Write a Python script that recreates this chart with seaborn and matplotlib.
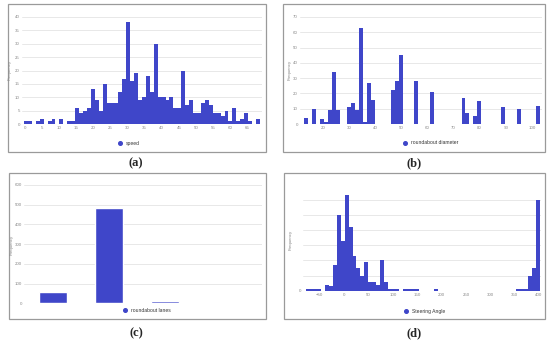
import numpy as np
import pandas as pd
import matplotlib.pyplot as plt
import seaborn as sns
from matplotlib.lines import Line2D
from matplotlib.patches import Rectangle

# (a) speed histogram, 60 bins
speed_counts = [1, 1, 0, 1, 2, 0, 1, 2, 0, 2, 0, 1, 1,
                6, 4, 5, 6, 13, 9, 5, 15, 8, 8, 8, 12, 17, 38, 16, 19, 9,
                10, 18, 12, 30, 10, 10, 9, 10, 6, 6, 20, 7, 9, 4, 4, 8, 9,
                7, 4, 4, 3, 5, 1, 6, 1, 2, 4, 1, 0, 2]
speed_range = (-0.3, 68.7)

# (b) roundabout diameter histogram, 60 bins
diam_counts = [4, 0, 10, 0, 3, 1, 9, 34, 9, 0,
               0, 11, 14, 9, 63, 1, 27, 16, 0, 0,
               0, 0, 22, 28, 45, 0, 0, 0, 28, 0,
               0, 0, 21, 0, 0, 0, 0, 0, 0, 0,
               17, 7, 0, 5, 15, 0, 0, 0, 0, 0,
               11, 0, 0, 0, 10, 0, 0, 0, 0, 12]
diam_range = (12.8, 103.2)

# (c) roundabout lanes
lanes = ["1", "2", "3"]
lane_counts = [56, 483, 14]

# (d) steering angle histogram, 60 bins
angle_counts = [1, 1, 1, 1, 0, 4, 3, 17, 50, 33,
                63, 42, 23, 15, 10, 19, 6, 6, 4, 20,
                6, 1, 1, 1, 0, 1, 1, 1, 1, 0,
                0, 0, 0, 1, 0, 0, 0, 0, 0, 0,
                0, 0, 0, 0, 0, 0, 0, 0, 0, 0,
                0, 0, 0, 0, 1, 1, 1, 10, 15, 60]
angle_range = (-78.7, 401.3)

BLUE = "#3f46c9"
W, H = 550, 342

sns.set_style("white")
plt.rcParams["font.family"] = ["Liberation Sans", "DejaVu Sans"]

fig = plt.figure(figsize=(5.5, 3.42), dpi=100)


def axes_px(x0, y0, x1, y1):
    return fig.add_axes([x0 / W, 1 - y1 / H, (x1 - x0) / W, (y1 - y0) / H])


def style(ax, yticks, xticks=None):
    ax.set_yticks(yticks)
    if xticks is None:
        ax.set_xticks([])
    else:
        ax.set_xticks(xticks)
    ax.grid(axis="y", color="#e4e4e4", linewidth=0.6)
    ax.grid(axis="x", visible=False)
    ax.set_axisbelow(True)
    for s in ax.spines.values():
        s.set_visible(False)
    ax.tick_params(length=0, labelsize=3.2, labelcolor="#8a8a8a", pad=1.5)
    ax.set_xlabel("")
    ax.set_ylabel("")


def hist(ax, counts, rng):
    edges = np.linspace(rng[0], rng[1], len(counts) + 1)
    df = pd.DataFrame({"x": (edges[:-1] + edges[1:]) / 2, "n": counts})
    sns.histplot(data=df, x="x", weights="n", bins=edges.tolist(), color=BLUE,
                 alpha=1, linewidth=0, edgecolor="none", ax=ax)


def legend(ax, text, xc, yc):
    h = Line2D([], [], marker="o", linestyle="", color=BLUE, markersize=2.6)
    ax.legend(handles=[h], labels=[text], loc="center",
              bbox_to_anchor=(xc / W, 1 - yc / H), bbox_transform=fig.transFigure,
              frameon=False, fontsize=3.6, handletextpad=0.9, handlelength=0.6,
              labelcolor="#333333")


def frame(x0, y0, x1, y1, label, lx, ly):
    fig.patches.append(Rectangle((x0 / W, 1 - y1 / H), (x1 - x0) / W, (y1 - y0) / H,
                                 transform=fig.transFigure, fill=False,
                                 edgecolor="#9a9a9a", linewidth=0.9))
    fig.text(lx / W, 1 - ly / H, label, ha="center", va="center", fontsize=9,
             fontweight="bold", family=["Liberation Serif", "DejaVu Serif"])


def ylabel(x, y):
    fig.text(x / W, 1 - y / H, "Frequency", rotation=90, ha="center", va="center",
             fontsize=3.2, color="#8a8a8a")


# panel (a)
frame(8, 4, 266, 152, "(a)", 136, 163)
ax = axes_px(22, 17, 262, 124)
hist(ax, speed_counts, speed_range)
ax.set_xlim(-0.88, 69.3)
ax.set_ylim(0, 40)
style(ax, np.arange(0, 41, 5), np.arange(0, 66, 5))
legend(ax, "speed", 129, 143)
ylabel(10, 70)

# panel (b)
frame(283, 4, 545, 152, "(b)", 414, 163)
ax = axes_px(300, 17, 542, 124)
hist(ax, diam_counts, diam_range)
ax.set_xlim(11.2, 103.9)
ax.set_ylim(0, 70)
style(ax, np.arange(0, 71, 10), np.arange(20, 101, 10))
legend(ax, "roundabout diameter", 431, 143)
ylabel(290, 70)

# panel (c)
frame(9, 173, 266, 319, "(c)", 136, 333)
ax = axes_px(24, 185, 262, 303.3)
sns.barplot(x=lanes, y=lane_counts, color=BLUE, saturation=1, width=0.5, ax=ax)
ax.set_xlim(-0.52, 3.73)
ax.set_ylim(0, 600)
style(ax, np.arange(0, 601, 100))
legend(ax, "roundabout lanes", 147, 310)
ylabel(12, 245)

# panel (d)
frame(284, 173, 545, 319, "(d)", 414, 333)
ax = axes_px(303, 190, 541, 290.7)
hist(ax, angle_counts, angle_range)
ax.set_xlim(-84.4, 404)
ax.set_ylim(0, 66.5)
style(ax, np.arange(0, 61, 10), np.arange(-50, 401, 50))
ax.set_yticklabels(["0", "", "", "", "", "", ""])
legend(ax, "Steering Angle", 425, 311)
ylabel(291, 240)

fig.savefig("out.png", dpi=100)
